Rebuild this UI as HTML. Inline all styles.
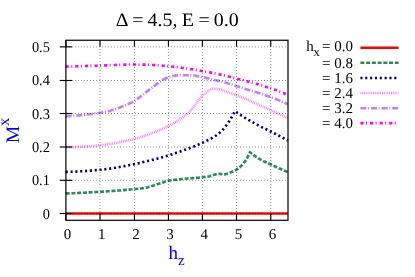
<!DOCTYPE html>
<html><head><meta charset="utf-8"><style>
html,body{margin:0;padding:0;background:#fff;}
svg{display:block;font-family:"Liberation Serif",serif;text-rendering:geometricPrecision;will-change:transform;}
.g{stroke:#000;stroke-opacity:.42;stroke-width:1;stroke-dasharray:1 2;}
.t{stroke:#000;stroke-width:1.15;}
.tl{font-size:15px;fill:#000;}
</style></head><body>
<svg width="415" height="277" viewBox="0 0 415 277">
<rect width="415" height="277" fill="#fff"/>
<line x1="65.6" y1="213.6" x2="287.9" y2="213.6" stroke="#ff0000" stroke-width="2.5"/>
<path d="M65.7,193.5 L67.4,193.4 L69.1,193.4 L70.8,193.3 L72.5,193.2 L74.2,193.2 L76.0,193.1 L77.7,193.0 L79.4,192.9 L81.1,192.9 L82.8,192.8 L84.5,192.7 L86.2,192.6 L87.9,192.5 L89.6,192.4 L91.3,192.3 L93.0,192.2 L94.8,192.1 L96.5,192.0 L98.2,191.9 L99.9,191.8 L101.6,191.7 L103.3,191.6 L105.0,191.5 L106.7,191.4 L108.4,191.3 L110.1,191.2 L111.8,191.0 L113.6,190.9 L115.3,190.8 L117.0,190.7 L118.7,190.5 L120.4,190.4 L122.1,190.2 L123.8,190.1 L125.5,189.9 L127.2,189.8 L128.9,189.6 L130.6,189.5 L132.4,189.3 L134.1,189.2 L135.8,189.0 L137.5,188.8 L139.2,188.7 L140.9,188.5 L142.6,188.2 L144.3,187.9 L146.0,187.6 L147.7,187.2 L149.4,186.7 L151.2,186.3 L152.9,185.7 L154.6,185.2 L156.3,184.7 L158.0,184.1 L159.7,183.6 L161.4,183.1 L163.1,182.4 L164.8,181.8 L166.5,181.3 L168.2,180.8 L169.9,180.5 L171.7,180.2 L173.4,180.0 L175.1,179.8 L176.8,179.6 L178.5,179.4 L180.2,179.2 L181.9,179.0 L183.6,178.8 L185.3,178.7 L187.0,178.5 L188.7,178.4 L190.5,178.3 L192.2,178.1 L193.9,178.0 L195.6,177.9 L197.3,177.7 L199.0,177.6 L200.7,177.4 L202.4,177.2 L204.1,177.0 L205.8,176.8 L207.5,176.6 L209.3,176.3 L211.0,175.9 L212.7,175.4 L214.4,174.8 L216.1,174.2 L217.8,173.8 L219.5,173.8 L221.2,174.1 L222.9,174.4 L224.6,174.4 L226.3,174.0 L228.1,173.4 L229.8,172.7 L231.5,172.1 L233.2,171.3 L234.9,170.5 L236.6,169.6 L238.3,168.4 L240.0,167.1 L241.7,165.4 L243.4,163.6 L245.1,161.4 L246.9,158.5 L248.6,155.1 L249.9,152.2 L249.9,152.2 L251.6,153.5 L253.3,154.8 L255.1,156.1 L256.8,157.3 L258.5,158.4 L260.2,159.4 L261.9,160.3 L263.6,161.2 L265.3,162.0 L267.0,162.8 L268.7,163.5 L270.4,164.3 L272.1,165.1 L273.9,165.9 L275.6,166.7 L277.3,167.5 L279.0,168.3 L280.7,169.0 L282.4,169.8 L284.1,170.5 L285.8,171.3 L287.5,172.0 L287.9,172.2" fill="none" stroke="#2e8b57" stroke-width="2.65" stroke-dasharray="4 1.73" stroke-linejoin="round"/>
<path d="M65.7,171.8 L67.4,171.8 L69.1,171.8 L70.8,171.8 L72.5,171.7 L74.2,171.6 L76.0,171.6 L77.7,171.5 L79.4,171.4 L81.1,171.3 L82.8,171.2 L84.5,171.1 L86.2,171.0 L87.9,170.8 L89.6,170.7 L91.3,170.6 L93.0,170.4 L94.8,170.3 L96.5,170.1 L98.2,170.0 L99.9,169.8 L101.6,169.7 L103.3,169.5 L105.0,169.3 L106.7,169.1 L108.4,168.9 L110.1,168.6 L111.8,168.3 L113.6,168.1 L115.3,167.8 L117.0,167.5 L118.7,167.2 L120.4,166.8 L122.1,166.5 L123.8,166.2 L125.5,165.9 L127.2,165.5 L128.9,165.2 L130.6,164.8 L132.4,164.5 L134.1,164.2 L135.8,163.8 L137.5,163.4 L139.2,163.1 L140.9,162.7 L142.6,162.3 L144.3,161.8 L146.0,161.4 L147.7,161.0 L149.4,160.6 L151.2,160.2 L152.9,159.7 L154.6,159.3 L156.3,158.9 L158.0,158.4 L159.7,158.0 L161.4,157.5 L163.1,157.0 L164.8,156.5 L166.5,156.0 L168.2,155.5 L169.9,155.0 L171.7,154.4 L173.4,153.9 L175.1,153.3 L176.8,152.7 L178.5,152.2 L180.2,151.6 L181.9,150.9 L183.6,150.3 L185.3,149.7 L187.0,149.1 L188.7,148.4 L190.5,147.7 L192.2,147.1 L193.9,146.4 L195.6,145.7 L197.3,145.0 L199.0,144.3 L200.7,143.5 L202.4,142.8 L204.1,142.1 L205.8,141.3 L207.5,140.4 L209.3,139.5 L211.0,138.6 L212.7,137.6 L214.4,136.6 L216.1,135.5 L217.8,134.2 L219.5,132.9 L221.2,131.3 L222.9,129.6 L224.6,127.6 L226.3,125.4 L228.1,123.0 L229.8,120.4 L231.5,117.5 L233.2,114.5 L234.9,111.2 L234.9,111.2 L236.6,112.3 L238.3,113.5 L240.0,114.6 L241.7,115.7 L243.4,116.7 L245.1,117.8 L246.9,118.8 L248.6,119.9 L250.3,120.9 L252.0,121.8 L253.7,122.8 L255.4,123.8 L257.1,124.7 L258.8,125.6 L260.5,126.5 L262.2,127.4 L263.9,128.2 L265.7,129.0 L267.4,129.8 L269.1,130.7 L270.8,131.5 L272.5,132.4 L274.2,133.3 L275.9,134.1 L277.6,135.0 L279.3,135.9 L281.0,136.8 L282.7,137.7 L284.5,138.6 L286.2,139.6 L287.9,140.5" fill="none" stroke="#000080" stroke-width="2.65" stroke-dasharray="2.1 2.74" stroke-linejoin="round"/>
<path d="M65.7,147.2 L67.4,147.2 L69.1,147.1 L70.8,147.1 L72.5,147.1 L74.2,147.0 L76.0,147.0 L77.7,146.9 L79.4,146.8 L81.1,146.7 L82.8,146.6 L84.5,146.5 L86.2,146.4 L87.9,146.3 L89.6,146.2 L91.3,146.0 L93.0,145.9 L94.8,145.8 L96.5,145.6 L98.2,145.5 L99.9,145.3 L101.6,145.2 L103.3,145.0 L105.0,144.8 L106.7,144.6 L108.4,144.3 L110.1,144.1 L111.8,143.8 L113.6,143.5 L115.3,143.2 L117.0,142.8 L118.7,142.5 L120.4,142.1 L122.1,141.8 L123.8,141.4 L125.5,141.0 L127.2,140.6 L128.9,140.2 L130.6,139.8 L132.4,139.4 L134.1,139.0 L135.8,138.6 L137.5,138.1 L139.2,137.6 L140.9,137.0 L142.6,136.5 L144.3,135.9 L146.0,135.3 L147.7,134.7 L149.4,134.1 L151.2,133.5 L152.9,132.8 L154.6,132.2 L156.3,131.5 L158.0,130.8 L159.7,130.1 L161.4,129.4 L163.1,128.6 L164.8,127.8 L166.5,127.0 L168.2,126.2 L169.9,125.3 L171.7,124.4 L173.4,123.4 L175.1,122.4 L176.8,121.4 L178.5,120.3 L180.2,119.2 L181.9,118.0 L183.6,116.7 L185.3,115.4 L187.0,114.0 L188.7,112.6 L190.5,110.8 L192.2,108.8 L193.9,106.6 L195.6,104.3 L197.3,102.0 L199.0,99.8 L200.7,97.7 L202.4,95.8 L204.1,94.2 L205.8,92.7 L207.5,91.5 L209.3,90.3 L211.0,89.3 L212.7,88.7 L214.4,88.7 L216.1,88.8 L217.8,89.0 L219.5,89.3 L221.2,89.8 L222.9,90.5 L224.6,91.1 L226.3,91.6 L228.1,92.2 L229.8,92.7 L231.5,93.3 L233.2,93.9 L234.9,94.5 L236.6,95.2 L238.3,95.8 L240.0,96.5 L241.7,97.2 L243.4,97.9 L245.1,98.6 L246.9,99.3 L248.6,100.1 L250.3,100.8 L252.0,101.6 L253.7,102.3 L255.4,103.1 L257.1,103.9 L258.8,104.7 L260.5,105.5 L262.2,106.2 L263.9,107.0 L265.7,107.8 L267.4,108.6 L269.1,109.4 L270.8,110.2 L272.5,110.9 L274.2,111.7 L275.9,112.5 L277.6,113.3 L279.3,114.1 L281.0,114.9 L282.7,115.7 L284.5,116.5 L286.2,117.4 L287.9,118.2" fill="none" stroke="#ff80ff" stroke-width="2.65" stroke-dasharray="0.95 0.85" stroke-linejoin="round"/>
<path d="M65.7,116.2 L67.4,116.1 L69.1,116.1 L70.8,116.0 L72.5,115.9 L74.2,115.8 L76.0,115.7 L77.7,115.5 L79.4,115.4 L81.1,115.2 L82.8,115.0 L84.5,114.8 L86.2,114.6 L87.9,114.4 L89.6,114.2 L91.3,114.0 L93.0,113.8 L94.8,113.5 L96.5,113.3 L98.2,113.1 L99.9,112.8 L101.6,112.6 L103.3,112.3 L105.0,111.9 L106.7,111.6 L108.4,111.2 L110.1,110.8 L111.8,110.3 L113.6,109.8 L115.3,109.2 L117.0,108.6 L118.7,107.9 L120.4,107.2 L122.1,106.6 L123.8,105.9 L125.5,105.2 L127.2,104.5 L128.9,103.7 L130.6,102.9 L132.4,102.1 L134.1,101.2 L135.8,100.1 L137.5,98.9 L139.2,97.6 L140.9,96.3 L142.6,94.9 L144.3,93.5 L146.0,92.2 L147.7,90.9 L149.4,89.6 L151.2,88.2 L152.9,86.9 L154.6,85.7 L156.3,84.4 L158.0,83.2 L159.7,81.9 L161.4,80.7 L163.1,79.7 L164.8,78.8 L166.5,78.0 L168.2,77.3 L169.9,76.8 L171.7,76.4 L173.4,76.0 L175.1,75.6 L176.8,75.4 L178.5,75.2 L180.2,75.2 L181.9,75.2 L183.6,75.2 L185.3,75.2 L187.0,75.2 L188.7,75.2 L190.5,75.2 L192.2,75.3 L193.9,75.5 L195.6,75.7 L197.3,76.1 L199.0,76.5 L200.7,76.8 L202.4,77.2 L204.1,77.5 L205.8,77.9 L207.5,78.3 L209.3,78.7 L211.0,79.1 L212.7,79.5 L214.4,79.9 L216.1,80.3 L217.8,80.6 L219.5,81.0 L221.2,81.4 L222.9,81.8 L224.6,82.3 L226.3,82.8 L228.1,83.4 L229.8,83.9 L231.5,84.5 L233.2,85.0 L234.9,85.6 L236.6,86.2 L238.3,86.7 L240.0,87.2 L241.7,87.8 L243.4,88.3 L245.1,88.8 L246.9,89.4 L248.6,89.9 L250.3,90.4 L252.0,90.9 L253.7,91.5 L255.4,92.0 L257.1,92.5 L258.8,93.1 L260.5,93.6 L262.2,94.2 L263.9,94.8 L265.7,95.4 L267.4,95.9 L269.1,96.6 L270.8,97.2 L272.5,97.8 L274.2,98.5 L275.9,99.1 L277.6,99.8 L279.3,100.5 L281.0,101.2 L282.7,101.9 L284.5,102.7 L286.2,103.4 L287.9,104.2" fill="none" stroke="#c080ff" stroke-width="2.65" stroke-dasharray="6 1.7 1 1.9" stroke-linejoin="round"/>
<path d="M65.7,66.6 L67.4,66.5 L69.1,66.5 L70.8,66.4 L72.5,66.4 L74.2,66.3 L76.0,66.3 L77.7,66.2 L79.4,66.2 L81.1,66.1 L82.8,66.1 L84.5,66.0 L86.2,66.0 L87.9,65.9 L89.6,65.9 L91.3,65.8 L93.0,65.8 L94.8,65.7 L96.5,65.7 L98.2,65.6 L99.9,65.6 L101.6,65.5 L103.3,65.5 L105.0,65.4 L106.7,65.3 L108.4,65.3 L110.1,65.2 L111.8,65.1 L113.6,65.0 L115.3,65.0 L117.0,64.9 L118.7,64.8 L120.4,64.8 L122.1,64.7 L123.8,64.7 L125.5,64.6 L127.2,64.6 L128.9,64.5 L130.6,64.5 L132.4,64.5 L134.1,64.5 L135.8,64.5 L137.5,64.5 L139.2,64.5 L140.9,64.5 L142.6,64.6 L144.3,64.6 L146.0,64.6 L147.7,64.7 L149.4,64.8 L151.2,64.9 L152.9,65.0 L154.6,65.1 L156.3,65.2 L158.0,65.3 L159.7,65.4 L161.4,65.6 L163.1,65.7 L164.8,65.9 L166.5,66.0 L168.2,66.2 L169.9,66.3 L171.7,66.5 L173.4,66.7 L175.1,66.9 L176.8,67.1 L178.5,67.3 L180.2,67.5 L181.9,67.8 L183.6,68.0 L185.3,68.3 L187.0,68.5 L188.7,68.8 L190.5,69.1 L192.2,69.3 L193.9,69.6 L195.6,69.9 L197.3,70.2 L199.0,70.5 L200.7,70.8 L202.4,71.1 L204.1,71.3 L205.8,71.7 L207.5,72.0 L209.3,72.3 L211.0,72.6 L212.7,73.0 L214.4,73.3 L216.1,73.7 L217.8,74.0 L219.5,74.4 L221.2,74.8 L222.9,75.2 L224.6,75.6 L226.3,76.0 L228.1,76.4 L229.8,76.8 L231.5,77.2 L233.2,77.6 L234.9,78.1 L236.6,78.5 L238.3,79.0 L240.0,79.4 L241.7,79.8 L243.4,80.3 L245.1,80.8 L246.9,81.2 L248.6,81.7 L250.3,82.2 L252.0,82.6 L253.7,83.1 L255.4,83.6 L257.1,84.1 L258.8,84.6 L260.5,85.1 L262.2,85.6 L263.9,86.1 L265.7,86.7 L267.4,87.2 L269.1,87.8 L270.8,88.3 L272.5,88.9 L274.2,89.5 L275.9,90.1 L277.6,90.8 L279.3,91.4 L281.0,92.1 L282.7,92.8 L284.5,93.4 L286.2,94.1 L287.9,94.8" fill="none" stroke="#ff00ff" stroke-width="2.65" stroke-dasharray="3.2 2.4 1 3" stroke-linejoin="round"/>
<line x1="100.00" y1="40" x2="100.00" y2="220" class="g"/>
<line x1="134.45" y1="40" x2="134.45" y2="220" class="g"/>
<line x1="168.45" y1="40" x2="168.45" y2="220" class="g"/>
<line x1="202.40" y1="40" x2="202.40" y2="220" class="g"/>
<line x1="236.50" y1="40" x2="236.50" y2="220" class="g"/>
<line x1="270.75" y1="40" x2="270.75" y2="220" class="g"/>
<line x1="66" y1="213.50" x2="287.9" y2="213.50" class="g"/>
<line x1="66" y1="180.30" x2="287.9" y2="180.30" class="g"/>
<line x1="66" y1="147.00" x2="287.9" y2="147.00" class="g"/>
<line x1="66" y1="113.50" x2="287.9" y2="113.50" class="g"/>
<line x1="66" y1="80.50" x2="287.9" y2="80.50" class="g"/>
<line x1="66" y1="46.85" x2="287.9" y2="46.85" class="g"/>
<rect x="65.9" y="40.25" width="222.1" height="180.05" fill="none" stroke="#000" stroke-width="1.2"/>
<line x1="65.90" y1="220.3" x2="65.90" y2="213.5" class="t"/>
<line x1="65.90" y1="40.5" x2="65.90" y2="46.5" class="t"/>
<line x1="100.00" y1="220.3" x2="100.00" y2="213.5" class="t"/>
<line x1="100.00" y1="40.5" x2="100.00" y2="46.5" class="t"/>
<line x1="134.45" y1="220.3" x2="134.45" y2="213.5" class="t"/>
<line x1="134.45" y1="40.5" x2="134.45" y2="46.5" class="t"/>
<line x1="168.45" y1="220.3" x2="168.45" y2="213.5" class="t"/>
<line x1="168.45" y1="40.5" x2="168.45" y2="46.5" class="t"/>
<line x1="202.40" y1="220.3" x2="202.40" y2="213.5" class="t"/>
<line x1="202.40" y1="40.5" x2="202.40" y2="46.5" class="t"/>
<line x1="236.50" y1="220.3" x2="236.50" y2="213.5" class="t"/>
<line x1="236.50" y1="40.5" x2="236.50" y2="46.5" class="t"/>
<line x1="270.75" y1="220.3" x2="270.75" y2="213.5" class="t"/>
<line x1="270.75" y1="40.5" x2="270.75" y2="46.5" class="t"/>
<line x1="59.7" y1="213.50" x2="72" y2="213.50" class="t"/>
<line x1="59.7" y1="180.30" x2="72" y2="180.30" class="t"/>
<line x1="59.7" y1="147.00" x2="72" y2="147.00" class="t"/>
<line x1="59.7" y1="113.50" x2="72" y2="113.50" class="t"/>
<line x1="59.7" y1="80.50" x2="72" y2="80.50" class="t"/>
<line x1="59.7" y1="46.85" x2="72" y2="46.85" class="t"/>
<text x="67.5" y="239.2" text-anchor="middle" class="tl">0</text>
<text x="101.7" y="239.2" text-anchor="middle" class="tl">1</text>
<text x="135.9" y="239.2" text-anchor="middle" class="tl">2</text>
<text x="170.0" y="239.2" text-anchor="middle" class="tl">3</text>
<text x="204.2" y="239.2" text-anchor="middle" class="tl">4</text>
<text x="238.4" y="239.2" text-anchor="middle" class="tl">5</text>
<text x="272.6" y="239.2" text-anchor="middle" class="tl">6</text>
<text transform="translate(49.9,218.5) scale(0.96,1)" text-anchor="end" class="tl">0</text>
<text transform="translate(49.9,185.2) scale(0.96,1)" text-anchor="end" class="tl">0.1</text>
<text transform="translate(49.9,151.8) scale(0.96,1)" text-anchor="end" class="tl">0.2</text>
<text transform="translate(49.9,118.5) scale(0.96,1)" text-anchor="end" class="tl">0.3</text>
<text transform="translate(49.9,85.2) scale(0.96,1)" text-anchor="end" class="tl">0.4</text>
<text transform="translate(49.9,51.8) scale(0.96,1)" text-anchor="end" class="tl">0.5</text>
<text transform="translate(115.8,26) scale(1.05,1)" style="font-size:19px">Δ</text>
<text transform="translate(132.2,26) scale(1.05,1)" style="font-size:19px">=</text>
<text transform="translate(147.6,26) scale(1.05,1)" style="font-size:19px">4.5,</text>
<text transform="translate(181.8,26) scale(1.05,1)" style="font-size:19px">E</text>
<text transform="translate(198.6,26) scale(1.05,1)" style="font-size:19px">=</text>
<text transform="translate(213.8,26) scale(1.05,1)" style="font-size:19px">0.0</text>
<text x="168.4" y="259.2" style="font-size:19px;fill:#0000ff">h<tspan dy="5.3" style="font-size:15px">z</tspan></text>
<text transform="translate(19.0,143.2) rotate(-90) scale(1.035,1)" style="font-size:19px;fill:#0000ff">M<tspan dx="-0.4" dy="-9.6" style="font-size:16px">x</tspan></text>
<text x="353" y="51.2" text-anchor="end" class="tl">= 0.0</text>
<line x1="360.4" y1="47.7" x2="398.6" y2="47.7" stroke="#ff0000" stroke-width="2.4"/>
<text x="353" y="67.5" text-anchor="end" class="tl">= 0.8</text>
<line x1="360.4" y1="62.7" x2="398.6" y2="62.7" stroke="#2e8b57" stroke-width="2.65" stroke-dasharray="4 1.73"/>
<text x="353" y="82.7" text-anchor="end" class="tl">= 1.6</text>
<line x1="360.4" y1="78.0" x2="398.6" y2="78.0" stroke="#000080" stroke-width="2.65" stroke-dasharray="2.1 2.74"/>
<text x="353" y="97.9" text-anchor="end" class="tl">= 2.4</text>
<line x1="360.4" y1="93.0" x2="398.6" y2="93.0" stroke="#ff80ff" stroke-width="2.65" stroke-dasharray="0.95 0.85"/>
<text x="353" y="113.1" text-anchor="end" class="tl">= 3.2</text>
<line x1="360.4" y1="108.2" x2="398.6" y2="108.2" stroke="#c080ff" stroke-width="2.65" stroke-dasharray="6 1.7 1 1.9"/>
<text x="353" y="128.3" text-anchor="end" class="tl">= 4.0</text>
<line x1="360.4" y1="123.1" x2="398.6" y2="123.1" stroke="#ff00ff" stroke-width="2.65" stroke-dasharray="3.2 2.4 1 3"/>
<text x="306.3" y="51.2" class="tl">h<tspan dx="-0.3" dy="4.3" style="font-size:12.5px">x</tspan></text>
</svg></body></html>
